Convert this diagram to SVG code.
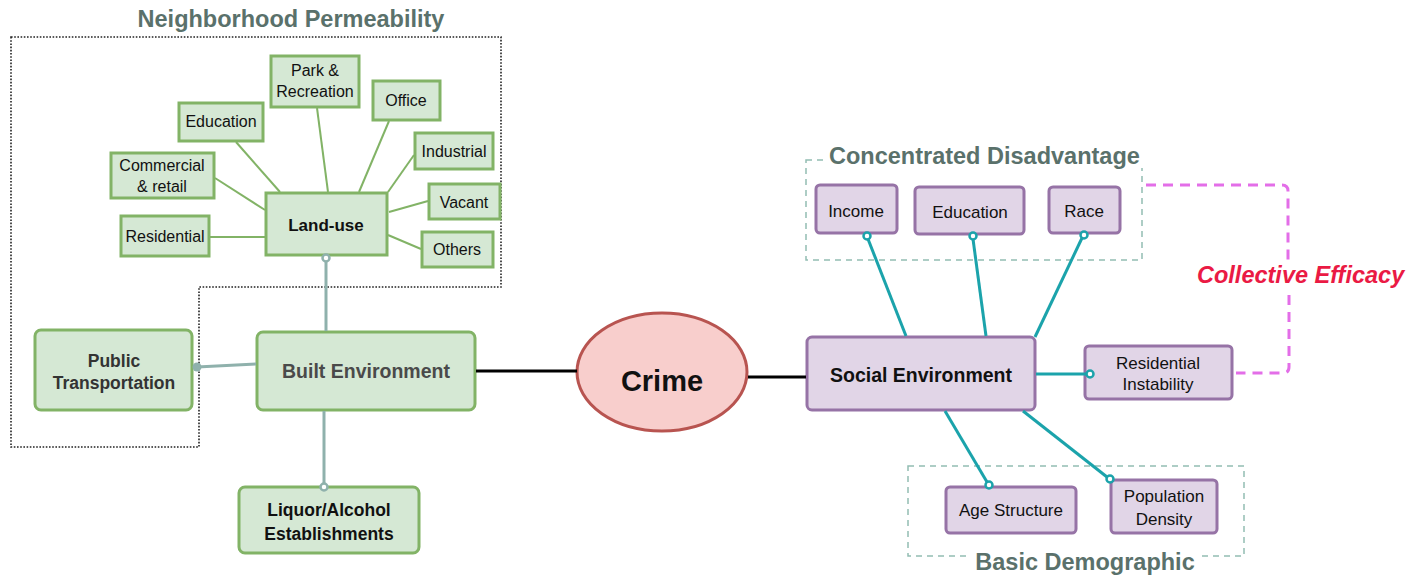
<svg xmlns="http://www.w3.org/2000/svg" width="1420" height="579" viewBox="0 0 1420 579">
  <style>
    text { font-family: "Liberation Sans", Arial, sans-serif; }
    .green { fill: #d5e8d4; stroke: #82b366; stroke-width: 3; }
    .purple { fill: #e1d5e7; stroke: #9673a6; stroke-width: 3; }
    .crime { fill: #f8cecc; stroke: #b85450; stroke-width: 3; }
    .leaf { font-size: 16px; fill: #111; text-anchor: middle; }
    .ptxt { font-size: 17px; fill: #111; text-anchor: middle; }
    .bold { font-weight: bold; text-anchor: middle; }
    .title { font-size: 23.5px; font-weight: bold; fill: #5a716b; }
    .lu { stroke: #82b366; stroke-width: 2; fill: none; }
    .be { stroke: #8fb1ac; stroke-width: 3; fill: none; }
    .main { stroke: #000; stroke-width: 3; fill: none; }
    .se { stroke: #1ba3ab; stroke-width: 3; fill: none; }
    .ocirc { fill: #fff; stroke-width: 2.5; }
    .grp { fill: none; stroke: #92bdb3; stroke-width: 1.5; stroke-dasharray: 6 5; }
    .ce { fill: none; stroke: #e36ee8; stroke-width: 3; stroke-dasharray: 10 7; }
  </style>

  <!-- neighborhood permeability boundary -->
  <g id="neighborhood-permeability">
    <path d="M11,37 H501 V287 H199 V447 H11 Z" fill="none" stroke="#222" stroke-width="1.6" stroke-dasharray="1.6 1.6"/>
    <text class="title" x="291" y="27" text-anchor="middle">Neighborhood Permeability</text>
  </g>

  <!-- social groupings -->
  <g id="concentrated-disadvantage">
    <rect class="grp" x="806" y="160" width="336" height="100"/>
    <rect x="826" y="144" width="318" height="24" fill="#fff"/>
    <text class="title" x="829" y="164">Concentrated Disadvantage</text>
  </g>
  <g id="basic-demographic">
    <rect class="grp" x="908" y="466" width="336" height="90"/>
    <rect x="971" y="548" width="229" height="28" fill="#fff"/>
    <text class="title" x="1085" y="570" text-anchor="middle">Basic Demographic</text>
  </g>
  <g id="collective-efficacy">
    <path class="ce" d="M1146,185 H1282 Q1288,185 1288,191 V262"/>
    <path class="ce" d="M1289,295 V367 Q1289,373 1283,373 H1236"/>
    <text x="1197" y="283" font-size="23.5" font-weight="bold" font-style="italic" fill="#ea1a44">Collective Efficacy</text>
  </g>

  <!-- land-use categories -->
  <g id="park-recreation">
    <rect class="green" x="271" y="56" width="88" height="51"/>
    <text class="leaf" x="315" y="76">Park &amp;</text>
    <text class="leaf" x="315" y="97">Recreation</text>
  </g>
  <g id="office">
    <rect class="green" x="373" y="81" width="67" height="39"/>
    <text class="leaf" x="406" y="106">Office</text>
  </g>
  <g id="education-lu">
    <rect class="green" x="179" y="103" width="84" height="38"/>
    <text class="leaf" x="221" y="127">Education</text>
  </g>
  <g id="industrial">
    <rect class="green" x="415" y="133" width="78" height="36"/>
    <text class="leaf" x="454" y="157">Industrial</text>
  </g>
  <g id="commercial-retail">
    <rect class="green" x="111" y="153" width="103" height="45"/>
    <text class="leaf" x="162" y="171">Commercial</text>
    <text class="leaf" x="162" y="192">&amp; retail</text>
  </g>
  <g id="vacant">
    <rect class="green" x="429" y="184" width="71" height="35"/>
    <text class="leaf" x="464" y="208">Vacant</text>
  </g>
  <g id="land-use">
    <rect class="green" x="266" y="193" width="121" height="62"/>
    <text class="bold" x="326" y="231" font-size="17" fill="#111">Land-use</text>
  </g>
  <g id="residential">
    <rect class="green" x="121" y="216" width="88" height="40"/>
    <text class="leaf" x="165" y="242">Residential</text>
  </g>
  <g id="others">
    <rect class="green" x="422" y="232" width="71" height="35"/>
    <text class="leaf" x="457" y="255">Others</text>
  </g>

  <!-- built environment branch -->
  <g id="public-transportation">
    <rect class="green" x="35" y="330" width="157" height="80" rx="6"/>
    <text class="bold" x="114" y="367" font-size="17.5" fill="#333">Public</text>
    <text class="bold" x="114" y="389" font-size="17.5" fill="#333">Transportation</text>
  </g>
  <g id="built-environment">
    <rect class="green" x="257" y="332" width="218" height="78" rx="6"/>
    <text class="bold" x="366" y="378" font-size="19.5" fill="#4a4a4a">Built Environment</text>
  </g>
  <g id="liquor-alcohol">
    <rect class="green" x="239" y="487" width="180" height="66" rx="6"/>
    <text class="bold" x="329" y="516" font-size="17.5" fill="#111">Liquor/Alcohol</text>
    <text class="bold" x="329" y="540" font-size="17.5" fill="#111">Establishments</text>
  </g>

  <g id="crime">
    <ellipse class="crime" cx="662" cy="372" rx="85" ry="59"/>
    <text class="bold" x="662" y="391" font-size="29" fill="#111">Crime</text>
  </g>

  <!-- social environment branch -->
  <g id="social-environment">
    <rect class="purple" x="807" y="337" width="228" height="73" rx="5"/>
    <text class="bold" x="921" y="382" font-size="19.5" fill="#111">Social Environment</text>
  </g>
  <g id="income">
    <rect class="purple" x="816" y="185" width="81" height="48" rx="4"/>
    <text class="ptxt" x="856" y="217">Income</text>
  </g>
  <g id="education-se">
    <rect class="purple" x="915" y="187" width="109" height="47" rx="4"/>
    <text class="ptxt" x="970" y="218">Education</text>
  </g>
  <g id="race">
    <rect class="purple" x="1049" y="187" width="71" height="46" rx="4"/>
    <text class="ptxt" x="1084" y="217">Race</text>
  </g>
  <g id="residential-instability">
    <rect class="purple" x="1085" y="346" width="147" height="53" rx="4"/>
    <text class="ptxt" x="1158" y="369">Residential</text>
    <text class="ptxt" x="1158" y="390">Instability</text>
  </g>
  <g id="age-structure">
    <rect class="purple" x="946" y="487" width="130" height="46" rx="4"/>
    <text class="ptxt" x="1011" y="516">Age Structure</text>
  </g>
  <g id="population-density">
    <rect class="purple" x="1111" y="480" width="106" height="53" rx="4"/>
    <text class="ptxt" x="1164" y="502">Population</text>
    <text class="ptxt" x="1164" y="525">Density</text>
  </g>

  <!-- connectors, drawn last so their end circles sit on the node borders -->
  <g id="connectors">
    <line class="lu" x1="210" y1="237" x2="265" y2="237"/>
    <line class="lu" x1="215" y1="178" x2="265" y2="210"/>
    <line class="lu" x1="236" y1="142" x2="280" y2="192"/>
    <line class="lu" x1="317" y1="108" x2="328" y2="192"/>
    <line class="lu" x1="389" y1="121" x2="359" y2="192"/>
    <line class="lu" x1="414" y1="155" x2="388" y2="192"/>
    <line class="lu" x1="428" y1="201" x2="389" y2="212"/>
    <line class="lu" x1="421" y1="249" x2="388" y2="235"/>

    <line class="be" x1="326" y1="261" x2="326" y2="331"/>
    <circle class="ocirc" cx="326" cy="258" r="3.5" stroke="#8fb1ac"/>
    <line class="be" x1="197" y1="367" x2="256" y2="364"/>
    <circle cx="197" cy="367" r="4.5" fill="#8fb1ac"/>
    <line class="be" x1="324" y1="411" x2="324" y2="484"/>
    <circle class="ocirc" cx="324" cy="487" r="3.5" stroke="#8fb1ac"/>

    <line class="main" x1="476" y1="371" x2="577" y2="371"/>
    <line class="main" x1="748" y1="377" x2="806" y2="377"/>

    <line class="se" x1="868" y1="239" x2="906" y2="336"/>
    <circle class="ocirc" cx="867" cy="236" r="3.5" stroke="#1ba3ab"/>
    <line class="se" x1="973" y1="239" x2="986" y2="336"/>
    <circle class="ocirc" cx="973" cy="236" r="3.5" stroke="#1ba3ab"/>
    <line class="se" x1="1082" y1="238" x2="1035" y2="337"/>
    <circle class="ocirc" cx="1084" cy="235" r="3.5" stroke="#1ba3ab"/>
    <line class="se" x1="1036" y1="374" x2="1087" y2="374"/>
    <circle class="ocirc" cx="1090" cy="374" r="3.5" stroke="#1ba3ab"/>
    <line class="se" x1="945" y1="411" x2="987" y2="482"/>
    <circle class="ocirc" cx="989" cy="485" r="3.5" stroke="#1ba3ab"/>
    <line class="se" x1="1023" y1="411" x2="1107" y2="477"/>
    <circle class="ocirc" cx="1110" cy="479" r="3.5" stroke="#1ba3ab"/>
  </g>
</svg>
